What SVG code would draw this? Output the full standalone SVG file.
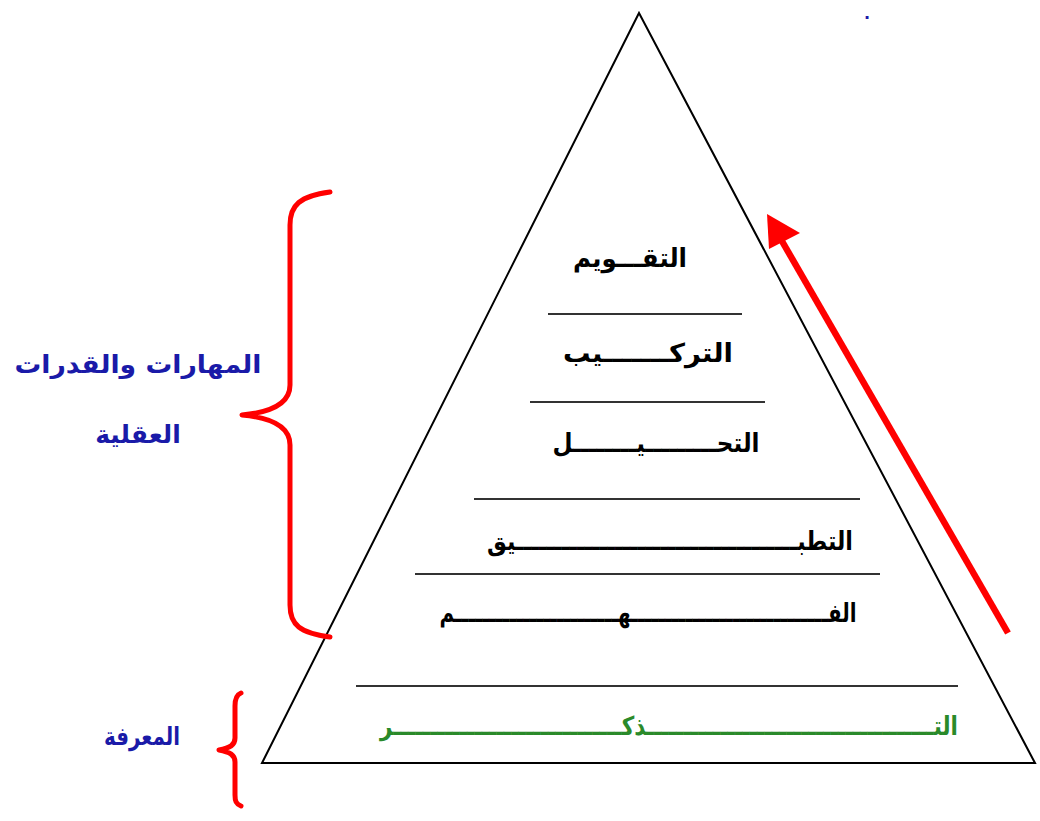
<svg xmlns="http://www.w3.org/2000/svg" width="1040" height="821" viewBox="0 0 1040 821">
<style>
.tri{fill:none;stroke:#000;stroke-width:2}
.lvl{stroke:#333;stroke-width:2}
.brace{fill:none;stroke:#f00;stroke-width:5;stroke-linecap:round;stroke-linejoin:round}
.ar{font-family:"DejaVu Sans",sans-serif;font-weight:bold;text-anchor:middle}
.blk{fill:#000;font-size:26px}
.blue{fill:#1a1aa8;font-size:25px}
.green{fill:#2a8a2a;font-size:26px}
</style>
<rect width="1040" height="821" fill="#fff"/>
<g id="pyramid">
<polygon class="tri" points="639,13 1035,763 262,763"/>
</g>
<g id="levels">
<line class="lvl" x1="548" y1="314" x2="742" y2="314"/>
<line class="lvl" x1="530" y1="402" x2="765" y2="402"/>
<line class="lvl" x1="474" y1="499" x2="860" y2="499"/>
<line class="lvl" x1="415" y1="574" x2="880" y2="574"/>
<line class="lvl" x1="356" y1="686" x2="958" y2="686"/>
</g>
<g id="n-evaluation"><text class="ar blk" x="630" y="267" textLength="114" lengthAdjust="spacingAndGlyphs">التقـــويم</text></g>
<g id="n-synthesis"><text class="ar blk" x="648" y="362" textLength="170" lengthAdjust="spacingAndGlyphs">التركـــــــيب</text></g>
<g id="n-analysis"><text class="ar blk" x="656" y="452" textLength="207" lengthAdjust="spacingAndGlyphs">التحـــــــــيــــــــل</text></g>
<g id="n-application"><text class="ar blk" x="670" y="550" textLength="366" lengthAdjust="spacingAndGlyphs">التطبـــــــــــــــــــــــــــــــــــــيق</text></g>
<g id="n-comprehension"><text class="ar blk" x="648" y="622" textLength="417" lengthAdjust="spacingAndGlyphs">الفـــــــــــــــــــــــــــــهــــــــــــــــــــــــم</text></g>
<g id="n-knowledge"><text class="ar green" x="669" y="735" textLength="578" lengthAdjust="spacingAndGlyphs">التـــــــــــــــــــــــــــــــــــــــذكـــــــــــــــــــــــــــــــر</text></g>
<g id="n-skills">
<text class="ar blue" x="138" y="373" textLength="247" lengthAdjust="spacingAndGlyphs">المهارات والقدرات</text>
<text class="ar blue" x="138" y="443">العقلية</text>
</g>
<g id="n-knowledge-label"><text class="ar blue" x="142" y="745" textLength="76" lengthAdjust="spacingAndGlyphs">المعرفة</text></g>
<g id="n-dot"><text class="ar" x="867" y="19" fill="#1a1aa8" font-size="16">.</text></g>
<g id="connectors">
<path class="brace" d="M330,192 C300,196 290,205 290,225 L290,385 C290,402 275,412 242,415 C275,418 290,428 290,445 L290,605 C290,625 300,633 330,637"/>
<path class="brace" d="M241,693 C236,695 235,700 235,706 L235,738 C235,745 230,748 219,750 C230,752 235,755 235,762 L235,795 C235,801 236,804 241,806"/>
<line x1="1008" y1="633" x2="775" y2="229" stroke="#f00" stroke-width="6.5"/>
<polygon points="767,214 769,249 800,233" fill="#f00"/>
</g>
</svg>
